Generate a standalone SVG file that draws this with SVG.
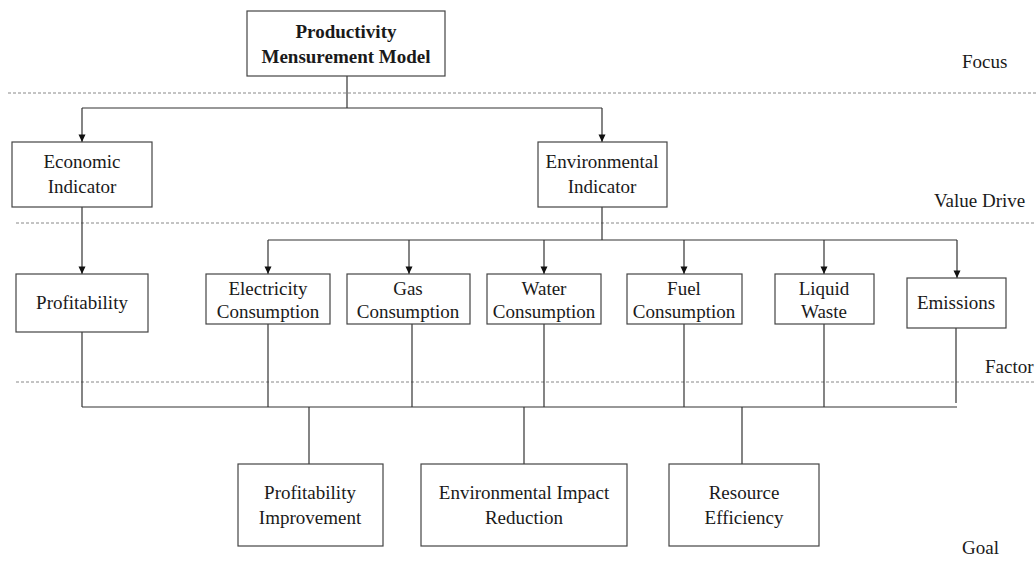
<svg xmlns="http://www.w3.org/2000/svg" width="1036" height="562" viewBox="0 0 1036 562">
<defs>
<style>
.box{fill:#fff;stroke:#444;stroke-width:1.2}
.t{font-family:'Liberation Serif','Tinos','DejaVu Serif',serif;font-size:19px;fill:#1a1a1a;text-anchor:middle}
.tb{font-weight:bold}
.lab{font-family:'Liberation Serif','Tinos','DejaVu Serif',serif;font-size:19px;fill:#1a1a1a}
.dash{stroke:#888;stroke-width:1;stroke-dasharray:3 2;fill:none}
.ln{stroke:#333;stroke-width:1.2;fill:none}
</style>
<marker id="ad" markerWidth="8" markerHeight="8" refX="4" refY="8" markerUnits="userSpaceOnUse" viewBox="0 0 8 8">
<path d="M0.5,0.5 L7.5,0.5 L4,8 Z" fill="#111"/>
</marker>
</defs>
<rect width="1036" height="562" fill="#fff"/>

<g id="layers">
<line class="dash" x1="8" y1="93" x2="1036" y2="93"/>
<line class="dash" x1="16" y1="223" x2="1036" y2="223"/>
<line class="dash" x1="16" y1="382" x2="1036" y2="382"/>
<text class="lab" x="962" y="68" font-family="Liberation Serif, serif">Focus</text>
<text class="lab" x="934" y="207" font-family="Liberation Serif, serif">Value Drive</text>
<text class="lab" x="985" y="373" font-family="Liberation Serif, serif">Factor</text>
<text class="lab" x="962" y="554" font-family="Liberation Serif, serif">Goal</text>
</g>

<g id="connectors">
<path class="ln" d="M347,76 V108"/>
<path class="ln" d="M82,108 H602"/>
<path class="ln" d="M82,108 V142" marker-end="url(#ad)"/>
<path class="ln" d="M602,108 V142" marker-end="url(#ad)"/>
<path class="ln" d="M82,207 V274" marker-end="url(#ad)"/>
<path class="ln" d="M602,207 V240"/>
<path class="ln" d="M268,240 H957"/>
<path class="ln" d="M268,240 V274" marker-end="url(#ad)"/>
<path class="ln" d="M409,240 V274" marker-end="url(#ad)"/>
<path class="ln" d="M544,240 V274" marker-end="url(#ad)"/>
<path class="ln" d="M684,240 V274" marker-end="url(#ad)"/>
<path class="ln" d="M824,240 V274" marker-end="url(#ad)"/>
<path class="ln" d="M957,240 V278" marker-end="url(#ad)"/>
<path class="ln" d="M82,332 V407"/>
<path class="ln" d="M268,324 V407"/>
<path class="ln" d="M412,324 V407"/>
<path class="ln" d="M544,324 V407"/>
<path class="ln" d="M684,324 V407"/>
<path class="ln" d="M824,324 V407"/>
<path class="ln" d="M956,328 V403"/>
<path class="ln" d="M82,407 H957"/>
<path class="ln" d="M309,407 V464"/>
<path class="ln" d="M524,407 V473"/>
<path class="ln" d="M742,407 V473"/>
</g>

<g id="n-root">
<rect class="box" x="247" y="11" width="198" height="65"/>
<text class="t tb" x="346" y="38">Productivity</text>
<text class="t tb" x="346" y="63">Mensurement Model</text>
</g>

<g id="n-economic">
<rect class="box" x="12" y="142" width="140" height="65"/>
<text class="t" x="82" y="168">Economic</text>
<text class="t" x="82" y="193">Indicator</text>
</g>

<g id="n-environmental">
<rect class="box" x="538" y="142" width="129" height="65"/>
<text class="t" x="602" y="168">Environmental</text>
<text class="t" x="602" y="193">Indicator</text>
</g>

<g id="n-profitability">
<rect class="box" x="16" y="274" width="132" height="58"/>
<text class="t" x="82" y="309">Profitability</text>
</g>

<g id="n-electricity">
<rect class="box" x="206" y="274" width="124" height="50"/>
<text class="t" x="268" y="295">Electricity</text>
<text class="t" x="268" y="318">Consumption</text>
</g>

<g id="n-gas">
<rect class="box" x="347" y="274" width="123" height="50"/>
<text class="t" x="408" y="295">Gas</text>
<text class="t" x="408" y="318">Consumption</text>
</g>

<g id="n-water">
<rect class="box" x="487" y="274" width="114" height="50"/>
<text class="t" x="544" y="295">Water</text>
<text class="t" x="544" y="318">Consumption</text>
</g>

<g id="n-fuel">
<rect class="box" x="627" y="274" width="115" height="50"/>
<text class="t" x="684" y="295">Fuel</text>
<text class="t" x="684" y="318">Consumption</text>
</g>

<g id="n-liquid">
<rect class="box" x="775" y="274" width="99" height="50"/>
<text class="t" x="824" y="295">Liquid</text>
<text class="t" x="824" y="318">Waste</text>
</g>

<g id="n-emissions">
<rect class="box" x="907" y="278" width="99" height="50"/>
<text class="t" x="956" y="309">Emissions</text>
</g>

<g id="n-goal-profit">
<rect class="box" x="238" y="464" width="145" height="82"/>
<text class="t" x="310" y="499">Profitability</text>
<text class="t" x="310" y="524">Improvement</text>
</g>

<g id="n-goal-env">
<rect class="box" x="421" y="464" width="206" height="82"/>
<text class="t" x="524" y="499">Environmental Impact</text>
<text class="t" x="524" y="524">Reduction</text>
</g>

<g id="n-goal-res">
<rect class="box" x="669" y="464" width="150" height="82"/>
<text class="t" x="744" y="499">Resource</text>
<text class="t" x="744" y="524">Efficiency</text>
</g>
</svg>
